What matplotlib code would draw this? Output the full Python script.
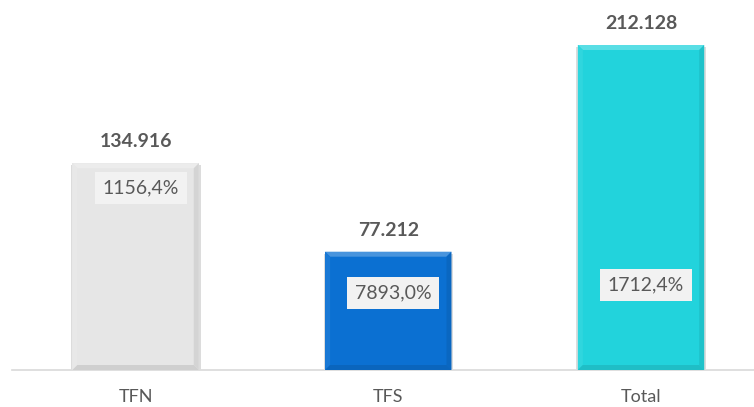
import numpy as np
import matplotlib
matplotlib.use("Agg")
import matplotlib.pyplot as plt
from matplotlib.patches import Polygon
from matplotlib.colors import to_rgb

# --------------------------------------------------------------------------
# Data
# --------------------------------------------------------------------------
categories = ["TFN", "TFS", "Total"]
values = [134916, 77212, 212128]
value_labels = ["134.916", "77.212", "212.128"]
pct_labels = ["1156,4%", "7893,0%", "1712,4%"]
bar_colors = ["#e6e6e6", "#0b70d2", "#22d3dc"]

# where the percentage boxes sit (data units)
pct_label_y = [118800, 50300, 55500]

TEXT_COLOR = "#595959"
plt.rcParams["font.family"] = ["Lato", "DejaVu Sans"]

# --------------------------------------------------------------------------
# Figure
# --------------------------------------------------------------------------
fig = plt.figure(figsize=(7.54, 4.07), dpi=100)
ax = fig.add_axes([12 / 754, 37 / 407, 742 / 754, 370 / 407])

x = np.arange(len(categories))
bar_w = 0.5
ax.set_xlim(-0.489, 2.447)
ax.set_ylim(0, 241500)

bars = ax.bar(x, values, width=bar_w, color=bar_colors, zorder=2)


def shade(c, f):
    r = np.array(to_rgb(c))
    if f > 0:
        return tuple(r + (1 - r) * f)
    return tuple(r * (1 + f))


# bevel: pixel size converted to data units
px_x = (ax.get_xlim()[1] - ax.get_xlim()[0]) / 742
px_y = (ax.get_ylim()[1] - ax.get_ylim()[0]) / 370
bev = 5
for b, c in zip(bars, bar_colors):
    x0, x1 = b.get_x(), b.get_x() + b.get_width()
    y0, y1 = 0, b.get_height()
    dx, dy = bev * px_x, bev * px_y
    # faint shadow on both sides
    for sx0, sx1 in [(x1, x1 + 2 * px_x), (x0 - 1.5 * px_x, x0)]:
        ax.add_patch(Polygon([(sx0, y0), (sx1, y0), (sx1, y1 - 2 * px_y), (sx0, y1 - 2 * px_y)],
                             closed=True, color="#dcdcdc", lw=0, zorder=1))
    faces = [
        ([(x0, y1), (x1, y1), (x1 - dx, y1 - dy), (x0 + dx, y1 - dy)], 0.25),
        ([(x0, y0), (x0, y1), (x0 + dx, y1 - dy), (x0 + dx, y0 + dy)], 0.06),
        ([(x1, y0), (x1, y1), (x1 - dx, y1 - dy), (x1 - dx, y0 + dy)], -0.08),
        ([(x0, y0), (x1, y0), (x1 - dx, y0 + dy), (x0 + dx, y0 + dy)], -0.1),
    ]
    for pts, f in faces:
        ax.add_patch(Polygon(pts, closed=True, facecolor=shade(c, f), lw=0, zorder=3))

# value labels above bars
for xi, v, lab in zip(x, values, value_labels):
    ax.annotate(lab, (xi, v), xytext=(0, 15.5), textcoords="offset points",
                ha="center", va="center", fontsize=14, fontweight="bold",
                color=TEXT_COLOR, zorder=5)

# percentage labels in grey boxes
for xi, yp, lab in zip(x, pct_label_y, pct_labels):
    ax.text(xi + 0.02, yp, lab, ha="center", va="center", fontsize=14,
            color=TEXT_COLOR, zorder=6,
            bbox=dict(boxstyle="square,pad=0.4", facecolor="#f2f2f2", edgecolor="none"))

# axes styling
for s in ["top", "right", "left"]:
    ax.spines[s].set_visible(False)
ax.spines["bottom"].set_color("#d9d9d9")
ax.spines["bottom"].set_linewidth(1.2)
ax.spines["bottom"].set_zorder(0)
ax.set_yticks([])
ax.set_xticks(x)
ax.set_xticklabels(categories, fontsize=13, color=TEXT_COLOR)
ax.tick_params(axis="x", length=0, pad=14)

fig.savefig("out.png", dpi=100)
